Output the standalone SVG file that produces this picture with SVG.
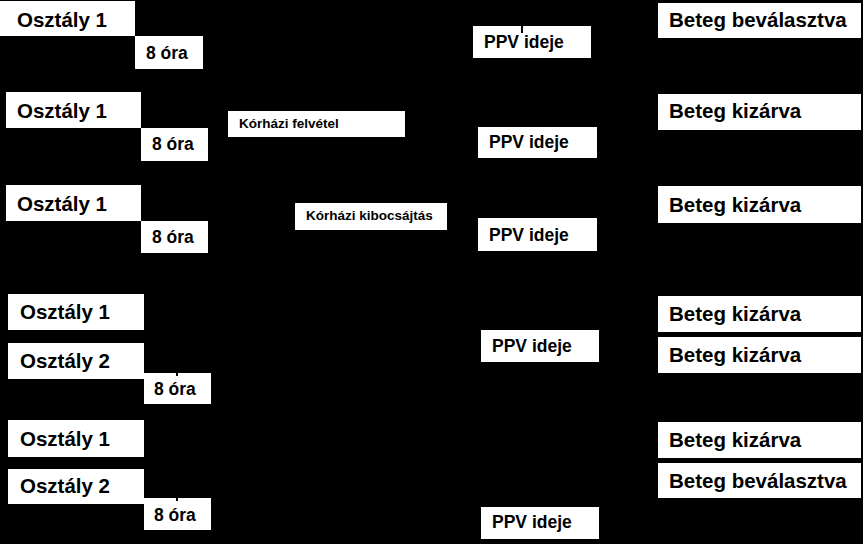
<svg xmlns="http://www.w3.org/2000/svg" width="863" height="544" viewBox="0 0 863 544">
<style>
  .box { fill: #ffffff; }
  text { font-family: "Liberation Sans", Arial, sans-serif; font-weight: bold; fill: #000000; }
  .big { font-size: 20.5px; }
  .mid { font-size: 17.5px; }
  .small { font-size: 13.5px; }
  .tick { stroke: #000000; stroke-width: 2; fill: none; }
</style>
<rect x="0" y="0" width="863" height="544" fill="#000000"/>

<!-- Row 1 -->
<g id="osztaly1-r1"><rect class="box" x="0" y="1" width="135" height="35"/><text class="big" x="17" y="27">Osztály 1</text></g>
<g id="ora-r1"><rect class="box" x="135" y="36" width="68" height="33"/><text class="mid" x="146" y="59">8 óra</text></g>
<g id="ppv-r1"><rect class="box" x="473" y="26" width="118" height="32"/><text class="mid" x="484" y="48">PPV ideje</text></g>
<g id="beteg-r1"><rect class="box" x="658" y="3" width="203" height="35"/><text class="big" x="669" y="27">Beteg beválasztva</text></g>

<!-- Row 2 -->
<g id="osztaly1-r2"><rect class="box" x="6" y="92" width="135" height="36"/><text class="big" x="17" y="118">Osztály 1</text></g>
<g id="ora-r2"><rect class="box" x="141" y="128" width="67" height="33"/><text class="mid" x="152" y="150">8 óra</text></g>
<g id="felvetel-r2"><rect class="box" x="228" y="111" width="177" height="26"/><text class="small" x="239" y="128">Kórházi felvétel</text></g>
<g id="ppv-r2"><rect class="box" x="478" y="127" width="119" height="31"/><text class="mid" x="489" y="148">PPV ideje</text></g>
<g id="beteg-r2"><rect class="box" x="658" y="94" width="203" height="36"/><text class="big" x="669" y="118">Beteg kizárva</text></g>

<!-- Row 3 -->
<g id="osztaly1-r3"><rect class="box" x="6" y="185" width="135" height="36"/><text class="big" x="17" y="211">Osztály 1</text></g>
<g id="ora-r3"><rect class="box" x="141" y="221" width="67" height="32"/><text class="mid" x="152" y="243">8 óra</text></g>
<g id="kibocsajtas-r3"><rect class="box" x="295" y="203" width="152" height="27"/><text class="small" x="306" y="220">Kórházi kibocsájtás</text></g>
<g id="ppv-r3"><rect class="box" x="478" y="218" width="119" height="33"/><text class="mid" x="489" y="241">PPV ideje</text></g>
<g id="beteg-r3"><rect class="box" x="658" y="186" width="203" height="37"/><text class="big" x="669" y="212">Beteg kizárva</text></g>

<!-- Row 4 -->
<g id="osztaly1-r4"><rect class="box" x="8" y="294" width="136" height="36"/><text class="big" x="20" y="319">Osztály 1</text></g>
<g id="osztaly2-r4"><rect class="box" x="8" y="343" width="136" height="36"/><text class="big" x="20" y="368">Osztály 2</text></g>
<g id="ora-r4"><rect class="box" x="144" y="373" width="67" height="31"/><text class="mid" x="154" y="395">8 óra</text></g>
<g id="ppv-r4"><rect class="box" x="481" y="330" width="118" height="32"/><text class="mid" x="492" y="352">PPV ideje</text></g>
<g id="beteg-r4a"><rect class="box" x="658" y="296" width="203" height="36"/><text class="big" x="669" y="321">Beteg kizárva</text></g>
<g id="beteg-r4b"><rect class="box" x="658" y="337" width="203" height="36"/><text class="big" x="669" y="362">Beteg kizárva</text></g>

<!-- Row 5 -->
<g id="osztaly1-r5"><rect class="box" x="8" y="420" width="136" height="37"/><text class="big" x="20" y="446">Osztály 1</text></g>
<g id="osztaly2-r5"><rect class="box" x="8" y="469" width="136" height="35"/><text class="big" x="20" y="493">Osztály 2</text></g>
<g id="ora-r5"><rect class="box" x="144" y="498" width="67" height="32"/><text class="mid" x="154" y="521">8 óra</text></g>
<g id="ppv-r5"><rect class="box" x="481" y="507" width="118" height="32"/><text class="mid" x="492" y="528">PPV ideje</text></g>
<g id="beteg-r5a"><rect class="box" x="658" y="422" width="203" height="36"/><text class="big" x="669" y="447">Beteg kizárva</text></g>
<g id="beteg-r5b"><rect class="box" x="658" y="463" width="203" height="35"/><text class="big" x="669" y="488">Beteg beválasztva</text></g>

<!-- Connectors (only visible fragments) -->
<g id="connectors">
  <line class="tick" x1="522" y1="26" x2="522" y2="33"/>
  <line class="tick" x1="177" y1="373" x2="177" y2="376"/>
  <line class="tick" x1="177" y1="498" x2="177" y2="501"/>
</g>
</svg>
